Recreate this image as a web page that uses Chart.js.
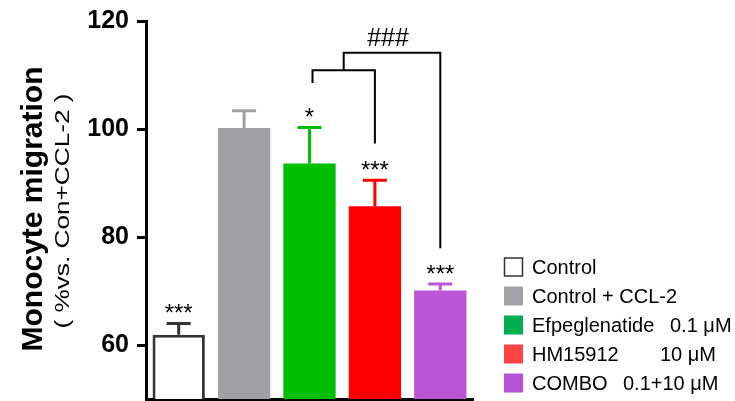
<!DOCTYPE html>
<html>
<head>
<meta charset="utf-8">
<script src="https://cdn.jsdelivr.net/npm/chart.js@4"></script>
<style>
  html, body { margin: 0; padding: 0; background: #fff; }
  #wrap { width: 735px; height: 401px; position: relative; }
</style>
</head>
<body>
<div id="wrap"><canvas id="myChart"></canvas></div>
<script>
// data
const groups = ['Control', 'Control + CCL-2', 'Efpeglenatide', 'HM15912', 'COMBO'];
const doses = ['', '', '0.1 μM', '10 μM', '0.1+10 μM'];
const means = [61.9, 100.2, 93.6, 85.7, 70.1];
const errTop = [64.0, 103.4, 100.3, 90.5, 71.3];
const stars = ['***', '', '*', '***', '***'];
const yTicks = [60, 80, 100, 120];

// comparison brackets (y in data units)
const brackets = [
  { from: 2, to: 3, y: 110.9, leftEnd: 108.5, rightEnd: 97.3, label: '' },
  { from: 'mid0', to: 4, y: 114.1, leftEnd: 110.9, rightEnd: 77.9, label: '###' }
];

const barColors = ['#ffffff', '#a09fa4', '#00bf00', '#ff0000', '#bb55d6'];
const errColors = ['#333333', '#a09fa4', '#00bf00', '#ff0000', '#bb55d6'];
const legendColors = ['#ffffff', '#a3a2a7', '#00b04f', '#ff4343', '#b552d6'];
const doseX = [0, 0, 670, 660, 623];

const ctx = document.getElementById('myChart');

const extras = {
  id: 'extras',
  afterDatasetsDraw(chart) {
    const c = chart.ctx;
    const y = chart.scales.y;
    const meta = chart.getDatasetMeta(0);

    // error bars (upper only)
    meta.data.forEach((bar, i) => {
      const cx = bar.x;
      c.save();
      c.strokeStyle = errColors[i];
      c.lineWidth = 3;
      c.beginPath();
      c.moveTo(cx, y.getPixelForValue(means[i]));
      c.lineTo(cx, y.getPixelForValue(errTop[i]));
      c.moveTo(cx - 12, y.getPixelForValue(errTop[i]));
      c.lineTo(cx + 12, y.getPixelForValue(errTop[i]));
      c.stroke();
      c.restore();

      if (stars[i]) {
        c.save();
        c.fillStyle = '#000';
        c.font = '24px "Liberation Sans", Arial, sans-serif';
        c.textAlign = 'center';
        c.textBaseline = 'alphabetic';
        c.fillText(stars[i], cx, y.getPixelForValue(errTop[i]) - 2);
        c.restore();
      }
    });

    // brackets
    let mid0 = null;
    brackets.forEach(b => {
      const x1 = b.from === 'mid0' ? mid0 : meta.data[b.from].x + 3;
      const x2 = meta.data[b.to].x;
      const yy = y.getPixelForValue(b.y);
      c.save();
      c.strokeStyle = '#000';
      c.lineWidth = 2;
      c.beginPath();
      c.moveTo(x1, y.getPixelForValue(b.leftEnd));
      c.lineTo(x1, yy);
      c.lineTo(x2, yy);
      c.lineTo(x2, y.getPixelForValue(b.rightEnd));
      c.stroke();
      if (b.label) {
        c.fillStyle = '#000';
        c.font = '25px "Liberation Sans", Arial, sans-serif';
        c.textAlign = 'center';
        c.textBaseline = 'alphabetic';
        c.fillText(b.label, (x1 + x2) / 2 - 4, yy - 7);
      }
      c.restore();
      if (mid0 === null) mid0 = (x1 + x2) / 2;
    });
  },
  afterDraw(chart) {
    const c = chart.ctx;
    // y axis titles
    c.save();
    c.translate(42, 209);
    c.rotate(-Math.PI / 2);
    c.fillStyle = '#000';
    c.textAlign = 'center';
    c.textBaseline = 'alphabetic';
    c.font = 'bold 30px "Liberation Sans", Arial, sans-serif';
    c.fillText('Monocyte migration', 0, 0);
    c.restore();

    c.save();
    c.translate(69, 211);
    c.rotate(-Math.PI / 2);
    c.fillStyle = '#000';
    c.textAlign = 'center';
    c.textBaseline = 'alphabetic';
    c.font = '20px "Liberation Sans", Arial, sans-serif';
    const sub = '( %vs. Con+CCL-2 )';
    const w = c.measureText(sub).width;
    c.scale(235 / w, 1);
    c.fillText(sub, 0, 0);
    c.restore();

    // legend
    c.save();
    c.font = '20px "Liberation Sans", Arial, sans-serif';
    c.textBaseline = 'middle';
    c.textAlign = 'left';
    groups.forEach((g, i) => {
      const cy = 267 + i * 29;
      c.fillStyle = legendColors[i];
      c.fillRect(504, cy - 9.5, 19, 19);
      if (i === 0) {
        c.strokeStyle = '#333';
        c.lineWidth = 1.5;
        c.strokeRect(504.5, cy - 9, 18, 18);
      }
      c.fillStyle = '#000';
      c.fillText(g, 532, cy + 1);
      if (doses[i]) c.fillText(doses[i], doseX[i], cy + 1);
    });
    c.restore();
  }
};

new Chart(ctx, {
  type: 'bar',
  data: {
    labels: groups,
    datasets: [{
      data: means,
      backgroundColor: barColors,
      borderColor: ['#333333', 'rgba(0,0,0,0)', 'rgba(0,0,0,0)', 'rgba(0,0,0,0)', 'rgba(0,0,0,0)'],
      borderWidth: [3, 0, 0, 0, 0],
      borderSkipped: 'bottom',
      categoryPercentage: 1.0,
      barPercentage: 0.8
    }]
  },
  options: {
    responsive: true,
    maintainAspectRatio: false,
    animation: false,
    layout: { padding: { left: 0, right: 262, top: 21, bottom: 2 } },
    plugins: { legend: { display: false }, tooltip: { enabled: false } },
    scales: {
      x: {
        ticks: { display: false },
        grid: { display: false },
        border: { display: true, color: '#000', width: 3 },
        afterFit: axis => { axis.height = 0; }
      },
      y: {
        min: 50,
        max: 120,
        afterBuildTicks: axis => { axis.ticks = yTicks.map(v => ({ value: v })); },
        afterFit: axis => {
          axis.width = 146;
          axis.paddingBottom = 0;
          axis.paddingTop = 0;
        },
        ticks: {
          color: '#000',
          padding: 8,
          font: { family: '"Liberation Sans", Arial, sans-serif', size: 25, weight: 'bold' }
        },
        grid: { drawOnChartArea: false, drawTicks: true, tickLength: 9, lineWidth: 3, color: '#000' },
        border: { display: true, color: '#000', width: 3 }
      }
    }
  },
  plugins: [extras]
});
</script>
</body>
</html>
